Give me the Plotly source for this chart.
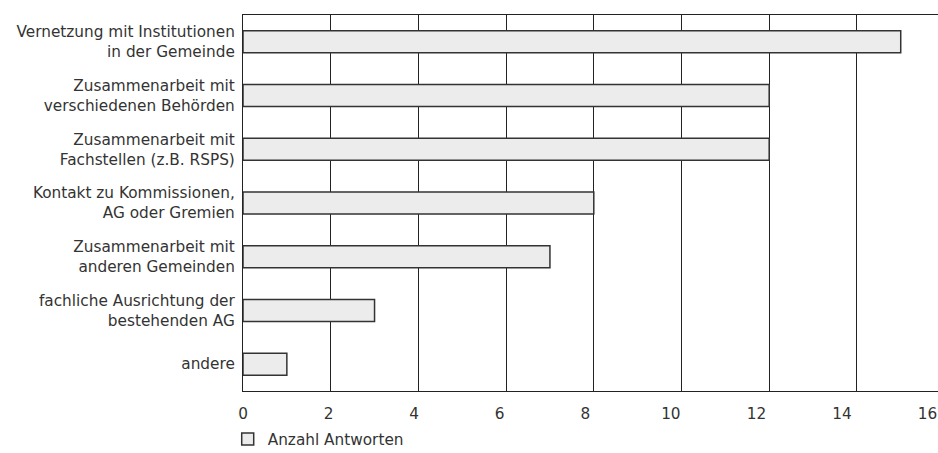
import plotly.graph_objects as go

categories = [
    "Vernetzung mit Institutionen<br>in der Gemeinde",
    "Zusammenarbeit mit<br>verschiedenen Behörden",
    "Zusammenarbeit mit<br>Fachstellen (z.B. RSPS)",
    "Kontakt zu Kommissionen,<br>AG oder Gremien",
    "Zusammenarbeit mit<br>anderen Gemeinden",
    "fachliche Ausrichtung der<br>bestehenden AG",
    "andere",
]
values = [15, 12, 12, 8, 7, 3, 1]
series_name = "Anzahl Antworten"
tick_values = [0, 2, 4, 6, 8, 10, 12, 14, 16]

FONT = "DejaVu Sans"
FS = 15.3
TXT = "#333333"
LINE = "#222222"

fig = go.Figure()
fig.add_trace(go.Bar(
    x=values, y=categories, orientation="h", name=series_name,
    marker=dict(color="#ebeceb", line=dict(color="#333333", width=1.5)),
    showlegend=True, hoverinfo="x+y",
))
# invisible companion trace so the tick-label axis (x2) gets drawn
fig.add_trace(go.Scatter(
    x=values, y=categories, xaxis="x2", mode="markers",
    marker=dict(opacity=0), showlegend=False, hoverinfo="skip",
))

fig.update_layout(
    width=938, height=453,
    margin=dict(l=243, r=0, t=15, b=62, autoexpand=False),
    paper_bgcolor="white", plot_bgcolor="rgba(0,0,0,0)",
    font=dict(family=FONT, size=FS, color=TXT),
    bargap=0.59,
    showlegend=True,
    legend=dict(orientation="h", x=-0.022, xanchor="left", y=-0.128, yanchor="middle",
                font=dict(family=FONT, size=FS, color=TXT), bgcolor="rgba(0,0,0,0)"),
    xaxis=dict(range=[0, 15.85], tickvals=tick_values, showticklabels=False,
               showgrid=True, gridcolor=LINE, gridwidth=1, zeroline=False,
               showline=True, linecolor=LINE, linewidth=1.2, mirror=True,
               ticks="", automargin=False, fixedrange=True),
    xaxis2=dict(range=[0, 16], domain=[0, 0.985], anchor="y", tickvals=tick_values,
                showticklabels=True, showgrid=False, zeroline=False, showline=False,
                ticks="", ticklabelstandoff=12, ticklabeloverflow="allow",
                tickfont=dict(family=FONT, size=FS, color=TXT),
                automargin=False, fixedrange=True),
    yaxis=dict(categoryorder="array", categoryarray=categories[::-1],
               showgrid=False, zeroline=False, showline=True, linecolor=LINE, linewidth=1.2,
               ticks="", ticklabelstandoff=4, tickfont=dict(family=FONT, size=FS, color=TXT),
               automargin=False, fixedrange=True),
)

fig.write_html("out.html", config={"displayModeBar": False},
               post_script="document.body.style.margin='0';document.body.style.overflow='hidden';")
